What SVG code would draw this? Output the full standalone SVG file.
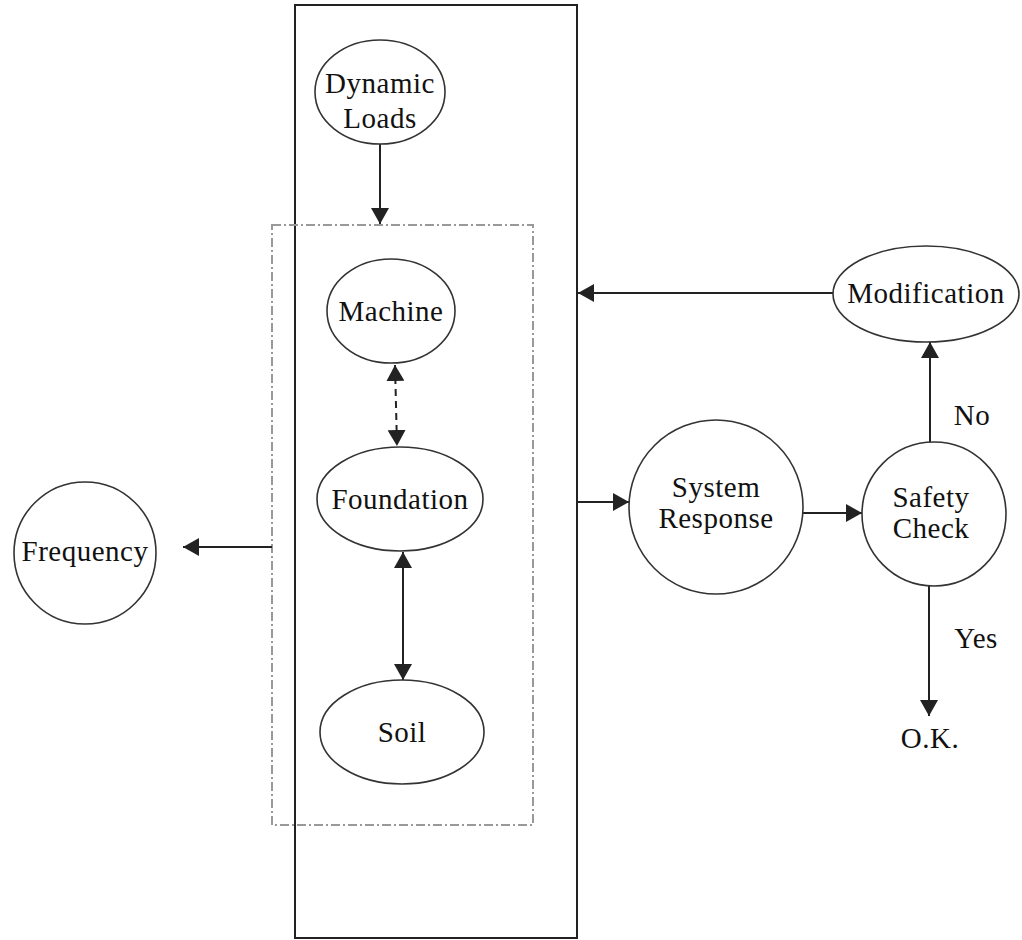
<svg xmlns="http://www.w3.org/2000/svg" width="1022" height="940" viewBox="0 0 1022 940">
<style>
.node{fill:#fff;stroke:#333;stroke-width:1.6}
.lbl{font-family:"Liberation Serif","Times New Roman",serif;font-size:29px;letter-spacing:0.5px;fill:#111;text-anchor:middle}
.ln{fill:none;stroke:#222;stroke-width:2}
.dash{stroke-dasharray:7 5}
.frame{fill:none;stroke:#222;stroke-width:2}
.dd{fill:none;stroke:#999;stroke-width:2;stroke-dasharray:9 3 2 3}
</style>
<defs>
<marker id="ah" markerUnits="userSpaceOnUse" markerWidth="17" markerHeight="18" refX="16" refY="9" orient="auto-start-reverse" viewBox="0 0 17 18">
<path d="M0,0 L16,9 L0,18 z" fill="#222"/>
</marker>
</defs>
<rect class="frame" x="295" y="5" width="282" height="933"/>
<rect class="dd" x="272" y="225" width="261" height="600"/>
<g id="connectors">
<line class="ln" x1="380" y1="144" x2="380" y2="224" marker-end="url(#ah)"/>
<line class="ln dash" x1="395" y1="365" x2="397" y2="446" marker-start="url(#ah)" marker-end="url(#ah)"/>
<line class="ln" x1="403" y1="552" x2="403" y2="680" marker-start="url(#ah)" marker-end="url(#ah)"/>
<line class="ln" x1="272" y1="547" x2="183" y2="547" marker-end="url(#ah)"/>
<line class="ln" x1="833" y1="293" x2="578" y2="293" marker-end="url(#ah)"/>
<line class="ln" x1="577" y1="502" x2="629" y2="502" marker-end="url(#ah)"/>
<line class="ln" x1="803" y1="513" x2="862" y2="513" marker-end="url(#ah)"/>
<line class="ln" x1="930" y1="442" x2="930" y2="342" marker-end="url(#ah)"/>
<line class="ln" x1="929" y1="586" x2="929" y2="716" marker-end="url(#ah)"/>
<text class="lbl" x="972" y="425">No</text>
<text class="lbl" x="976" y="648">Yes</text>
<text class="lbl" x="930" y="748">O.K.</text>
</g>
<g id="dynamic-loads">
<ellipse class="node" cx="380" cy="92" rx="65" ry="52"/>
<text class="lbl" x="380" y="93">Dynamic</text>
<text class="lbl" x="380" y="128">Loads</text>
</g>
<g id="machine">
<ellipse class="node" cx="391" cy="311" rx="64" ry="52"/>
<text class="lbl" x="391" y="321">Machine</text>
</g>
<g id="foundation">
<ellipse class="node" cx="400" cy="499" rx="83" ry="52"/>
<text class="lbl" x="400" y="509">Foundation</text>
</g>
<g id="soil">
<ellipse class="node" cx="402" cy="732" rx="82" ry="52"/>
<text class="lbl" x="402" y="742">Soil</text>
</g>
<g id="frequency">
<circle class="node" cx="85" cy="553" r="71"/>
<text class="lbl" x="85" y="561">Frequency</text>
</g>
<g id="modification">
<ellipse class="node" cx="926" cy="294" rx="93" ry="48"/>
<text class="lbl" x="926" y="303">Modification</text>
</g>
<g id="system-response">
<circle class="node" cx="716" cy="507" r="87"/>
<text class="lbl" x="716" y="497">System</text>
<text class="lbl" x="716" y="528">Response</text>
</g>
<g id="safety-check">
<circle class="node" cx="934" cy="514" r="72"/>
<text class="lbl" x="931" y="507">Safety</text>
<text class="lbl" x="931" y="538">Check</text>
</g>
</svg>
